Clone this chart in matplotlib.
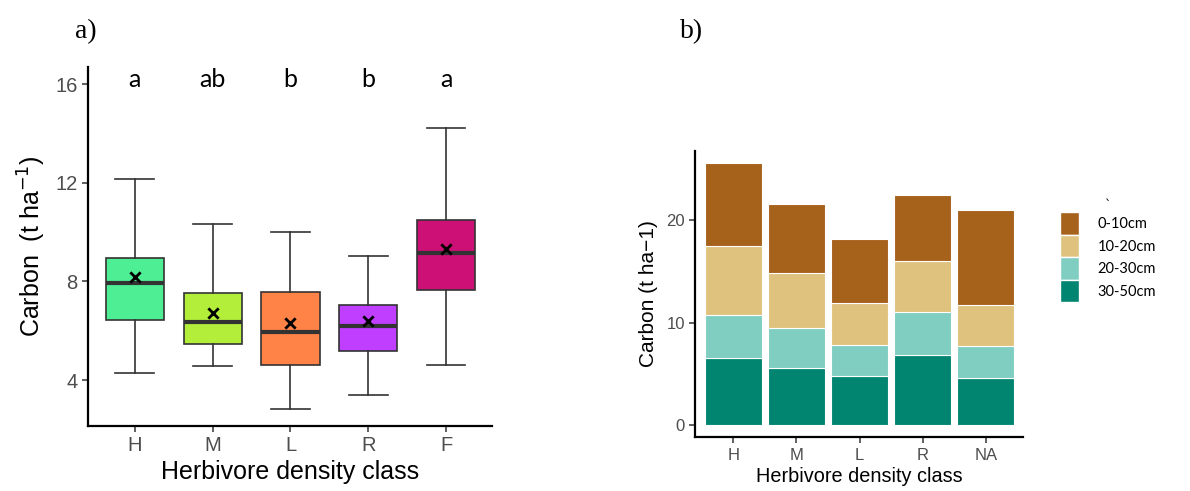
import numpy as np
import matplotlib.pyplot as plt
from matplotlib.patches import Patch

# panel a) box summaries
classes_a = ['H', 'M', 'L', 'R', 'F']
whislo = [4.27, 4.58, 2.83, 3.41, 4.61]
q1 = [6.42, 5.45, 4.61, 5.16, 7.65]
med = [7.92, 6.34, 5.96, 6.18, 9.17]
q3 = [8.97, 7.54, 7.58, 7.04, 10.48]
whishi = [12.15, 10.33, 10.0, 9.04, 14.23]
means = [8.17, 6.72, 6.32, 6.40, 9.31]
letters = ['a', 'ab', 'b', 'b', 'a']
box_cols = ['#4EEE94', '#B3EE3A', '#FF8247', '#BF3EFF', '#CD1076']

# panel b) stacked carbon by depth
classes_b = ['H', 'M', 'L', 'R', 'NA']
d30_50 = [6.56, 5.58, 4.77, 6.85, 4.61]
d20_30 = [4.19, 3.87, 3.05, 4.19, 3.12]
d10_20 = [6.74, 5.41, 4.11, 4.99, 4.00]
d0_10 = [8.10, 6.73, 6.25, 6.44, 9.27]
depth_labels = ['30-50cm', '20-30cm', '10-20cm', '0-10cm']
depth_cols = ['#018571', '#80CDC1', '#DFC27D', '#A6611A']

grey = '#4D4D4D'
sans = ['Liberation Sans', 'DejaVu Sans']

fig = plt.figure(figsize=(11.9, 4.91), dpi=100)

# ---- a)
ax1 = fig.add_axes([0.0739, 0.1324, 0.3395, 0.731])
stats = []
for i in range(len(classes_a)):
    stats.append(dict(whislo=whislo[i], q1=q1[i], med=med[i], q3=q3[i],
                      whishi=whishi[i], fliers=[]))
pos = np.arange(1, len(classes_a) + 1)
bp = ax1.bxp(stats, positions=pos, widths=0.75, patch_artist=True,
             showcaps=True, showfliers=False,
             boxprops=dict(edgecolor='#333333', linewidth=1.2),
             whiskerprops=dict(color='#333333', linewidth=1.2),
             capprops=dict(color='#333333', linewidth=1.2),
             medianprops=dict(color='#333333', linewidth=3))
for c in bp['caps']:
    x = c.get_xdata()
    m = x.mean()
    c.set_xdata([m - 0.25, m + 0.25])
for patch, col in zip(bp['boxes'], box_cols):
    patch.set_facecolor(col)
ax1.scatter(pos, means, marker='x', color='black', s=55, linewidths=2, zorder=5)
for p, t in zip(pos, letters):
    ax1.text(p, 15.9, t, ha='center', va='baseline', fontsize=18,
             family=['Lato', 'DejaVu Sans'])
ax1.set_xlim(0.396, 5.59)
ax1.set_ylim(2.14, 16.69)
ax1.set_xticks(pos)
ax1.set_xticklabels(classes_a)
ax1.set_yticks([4, 8, 12, 16])
for s in ['top', 'right']:
    ax1.spines[s].set_visible(False)
for s in ['left', 'bottom']:
    ax1.spines[s].set_linewidth(1.6)
ax1.tick_params(colors='#333333', labelcolor=grey, labelsize=14.5, length=4, width=1.1)
for lab in ax1.get_xticklabels() + ax1.get_yticklabels():
    lab.set_family(sans)
ax1.set_xlabel('Herbivore density class', fontsize=18, family=sans, labelpad=3)
ax1.set_ylabel('Carbon  (t ha$^{-1}$)', fontsize=18, family=sans, labelpad=5)
fig.text(0.063, 0.935, 'a)', fontsize=20, family=['Liberation Serif', 'DejaVu Serif'], va='center')

# ---- b)
ax2 = fig.add_axes([0.5843, 0.1094, 0.2751, 0.5837])
xb = np.arange(1, len(classes_b) + 1)
bottom = np.zeros(len(classes_b))
handles = []
for vals, lab, col in zip([d30_50, d20_30, d10_20, d0_10], depth_labels, depth_cols):
    ax2.bar(xb, vals, bottom=bottom, width=0.9, color=col, edgecolor='white', linewidth=0.8)
    bottom = bottom + np.array(vals)
    handles.append(Patch(facecolor=col, edgecolor='white', label=lab))
ax2.set_xlim(0.398, 5.586)
ax2.set_ylim(-1.17, 26.79)
ax2.set_xticks(xb)
ax2.set_xticklabels(classes_b)
ax2.set_yticks([0, 10, 20])
for s in ['top', 'right']:
    ax2.spines[s].set_visible(False)
for s in ['left', 'bottom']:
    ax2.spines[s].set_linewidth(1.6)
ax2.tick_params(colors='#333333', labelcolor=grey, labelsize=12, length=4, width=1.1)
for lab in ax2.get_xticklabels() + ax2.get_yticklabels():
    lab.set_family(sans)
ax2.set_xlabel('Herbivore density class', fontsize=14.3, family=sans, labelpad=3)
ax2.set_ylabel('Carbon (t ha\u22121)', fontsize=15, family=sans, labelpad=6)
leg = ax2.legend(handles=handles[::-1], title='`', loc='upper left',
                 bbox_to_anchor=(0.882, 0.615), bbox_transform=fig.transFigure,
                 frameon=False, handlelength=1.3, handleheight=2.0,
                 labelspacing=0.0, handletextpad=1.3, borderpad=0.2,
                 prop=dict(family=['Lato', 'DejaVu Sans'], size=10.5))
leg.get_title().set_fontsize(9)
fig.text(0.571, 0.935, 'b)', fontsize=20, family=['Liberation Serif', 'DejaVu Serif'], va='center')

fig.savefig('out.png', dpi=100)
